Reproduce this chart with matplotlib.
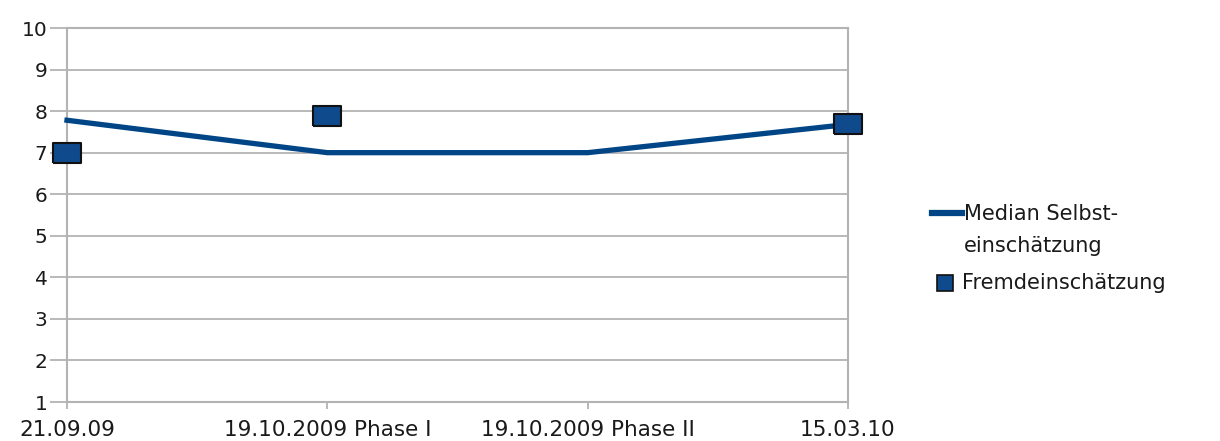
import numpy as np
import matplotlib
matplotlib.use("Agg")
import matplotlib.pyplot as plt
from matplotlib.lines import Line2D

plt.rcParams['font.family'] = ['DejaVu Sans']

categories = ["21.09.09", "19.10.2009 Phase I", "19.10.2009 Phase II", "15.03.10"]
median_selbst = [7.78, 7.0, 7.0, 7.68]
fremd = [7.0, 7.88, np.nan, 7.68]
y_ticks = [1, 2, 3, 4, 5, 6, 7, 8, 9, 10]
legend_labels = ["Median Selbst-\neinschätzung", "Fremdeinschätzung"]

line_color = "#004586"
marker_fill = "#0f4a8c"
grid_color = "#b3b3b3"
text_color = "#1a1a1a"

W, H = 1220, 441
fig = plt.figure(figsize=(W / 100, H / 100), dpi=100)
ax = fig.add_axes([67 / W, 1 - 402 / H, (848 - 67) / W, (402 - 28) / H])

x = np.arange(len(categories))
ax.plot(x, median_selbst, color=line_color, lw=3.8, solid_joinstyle="round",
        zorder=3, clip_on=False)

# slightly wide rectangular marker
rect = [(-1.35, -1), (1.35, -1), (1.35, 1), (-1.35, 1), (-1.35, -1)]
ax.plot(x, fremd, linestyle="none", marker=rect, markersize=20,
        markerfacecolor=marker_fill, markeredgecolor="#111111",
        markeredgewidth=1.5, zorder=4, clip_on=False)

ax.set_xlim(0, 3)
ax.set_ylim(1, 10)
ax.set_yticks(y_ticks)
ax.set_xticks(x)
ax.set_xticklabels(categories)

ax.grid(axis="y", color=grid_color, lw=1.3)
ax.set_axisbelow(True)
for s in ax.spines.values():
    s.set_color(grid_color)
    s.set_linewidth(1.5)

ax.tick_params(axis="y", direction="out", length=12, width=1.3, color=grid_color,
               labelsize=14.5, labelcolor=text_color, pad=2)
ax.tick_params(axis="x", direction="out", length=5, width=1.3, color=grid_color,
               labelsize=15.5, labelcolor=text_color, pad=8)

# legend drawn by hand so the line key sits beside the first text row
fy = lambda py: 1 - py / H
fig.add_artist(Line2D([932 / W, 962 / W], [fy(213), fy(213)], color=line_color,
                      lw=4.5, transform=fig.transFigure))
fig.add_artist(Line2D([945 / W], [fy(283)], linestyle="none", marker="s",
                      markersize=12, markerfacecolor=marker_fill,
                      markeredgecolor="#111111", markeredgewidth=1.2,
                      transform=fig.transFigure))
fig.text(964 / W, fy(204), legend_labels[0], fontsize=15, color=text_color,
         va="top", ha="left", linespacing=1.75)
fig.text(962 / W, fy(283), legend_labels[1], fontsize=15, color=text_color,
         va="center", ha="left")

fig.savefig("out.png", dpi=100, facecolor="white")
